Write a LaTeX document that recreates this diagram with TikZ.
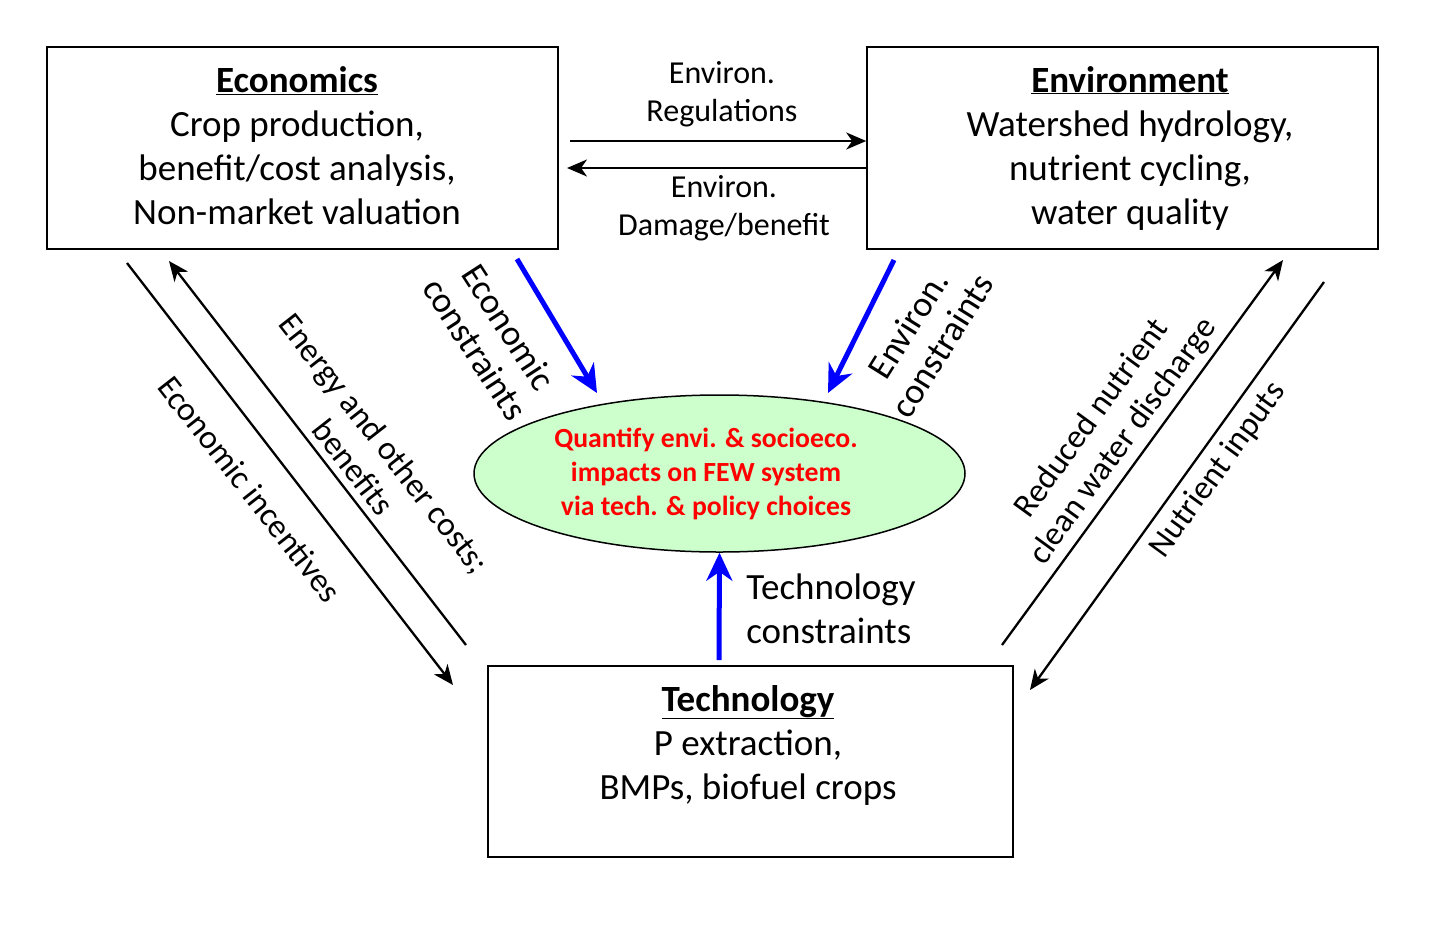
\documentclass[tikz,border=0pt]{standalone}
\usepackage{fontspec}
\setmainfont{Carlito}
\usetikzlibrary{shapes.geometric,arrows.meta}
\definecolor{ellfill}{RGB}{204,255,204}
\definecolor{bluearr}{RGB}{0,0,255}
\begin{document}
\begin{tikzpicture}[x=1pt,y=-1pt,
  boxnode/.style={draw=black, line width=1.5pt, inner sep=0pt},
  boxtext/.style={align=center, font=\fontsize{37}{44}\selectfont},
  lbl/.style={align=center, font=\fontsize{32}{38}\selectfont},
  rlbl/.style={align=center, font=\fontsize{33.5}{39}\selectfont},
  blbl/.style={align=center, font=\fontsize{36}{40}\selectfont},
  blk/.style={line width=2.3pt, -{Stealth[length=20pt,width=17pt,inset=6pt]}},
  blu/.style={draw=bluearr, line width=5pt, -{Stealth[length=28pt,width=26pt,inset=9pt]}}]
\useasboundingbox (0,0) rectangle (1430,935);
% boxes
\node[boxnode, minimum width=511pt, minimum height=202pt] (eco) at (302.5,148) {};
\node[boxnode, minimum width=511pt, minimum height=202pt] (env) at (1122.5,148) {};
\node[boxnode, minimum width=525pt, minimum height=191pt] (tech) at (750.5,761.5) {};
\node[boxtext] (ecot) at (297,146) {\underline{\textbf{Economics}}\\Crop production,\\benefit/cost analysis,\\Non-market valuation};
\node[boxtext] (envt) at (1130,148) {\underline{\textbf{Environment}}\\Watershed hydrology,\\nutrient cycling,\\water quality};
\node[boxtext] (techt) at (748,745) {\underline{\textbf{Technology}}\\P extraction,\\BMPs, biofuel crops};
% ellipse
\node[ellipse, draw=black, line width=1.5pt, fill=ellfill, minimum width=491pt, minimum height=157pt, inner sep=0pt] (few) at (719.5,473.5) {};
\node[align=center, text=red, font=\bfseries\fontsize{27.7}{34}\selectfont] (fewt) at (706,474) {Quantify envi. \& socioeco.\\impacts on FEW system\\via tech. \& policy choices};
% top arrows
\coordinate (r1) at (570,141);
\coordinate (r2) at (567,168);
\draw[blk] (r1) -- (r1 -| env.west);
\draw[blk] (r2 -| env.west) -- (r2);
\node[lbl] (lreg) at (722,94) {Environ.\\Regulations};
\node[lbl] (ldam) at (724,208) {Environ.\\Damage/benefit};
% blue arrows
\coordinate (b1s) at (517,259);
\coordinate (b1e) at (597,393);
\coordinate (b2s) at (894,260);
\coordinate (b2e) at (828,393);
\coordinate (b3s) at (719,660);
\draw[blu] (b1s) -- (b1e);
\draw[blu] (b2s) -- (b2e);
\draw[blu] (b3s) -- (few.south);
\node[blbl, rotate=-57] (lecoc) at (492,338) {Economic\\constraints};
\node[blbl, rotate=58] (lenvc) at (925,335) {Environ.\\constraints};
\node[boxtext, align=left] (ltechc) at (831,609) {Technology\\ constraints};
% left arrows
\coordinate (e1s) at (127,263);
\coordinate (e1e) at (453,685);
\coordinate (e2s) at (466,645);
\coordinate (e2e) at (169,261);
\draw[blk] (e1s) -- (e1e);
\draw[blk] (e2s) -- (e2e);
\node[rlbl, rotate=-52] (leinc) at (250,489) {Economic incentives};
\node[rlbl, rotate=-52] (lenergy) at (369,455) {Energy and other costs;\\benefits};
% right arrows
\coordinate (n1s) at (1002,645);
\coordinate (n1e) at (1283,260);
\coordinate (n2s) at (1324,282);
\coordinate (n2e) at (1030,690);
\draw[blk] (n1s) -- (n1e);
\draw[blk] (n2s) -- (n2e);
\node[rlbl, rotate=54] (lred) at (1108,430) {Reduced nutrient\\clean water discharge};
\node[rlbl, rotate=54] (lnin) at (1218,470) {Nutrient inputs};
\end{tikzpicture}
\end{document}
